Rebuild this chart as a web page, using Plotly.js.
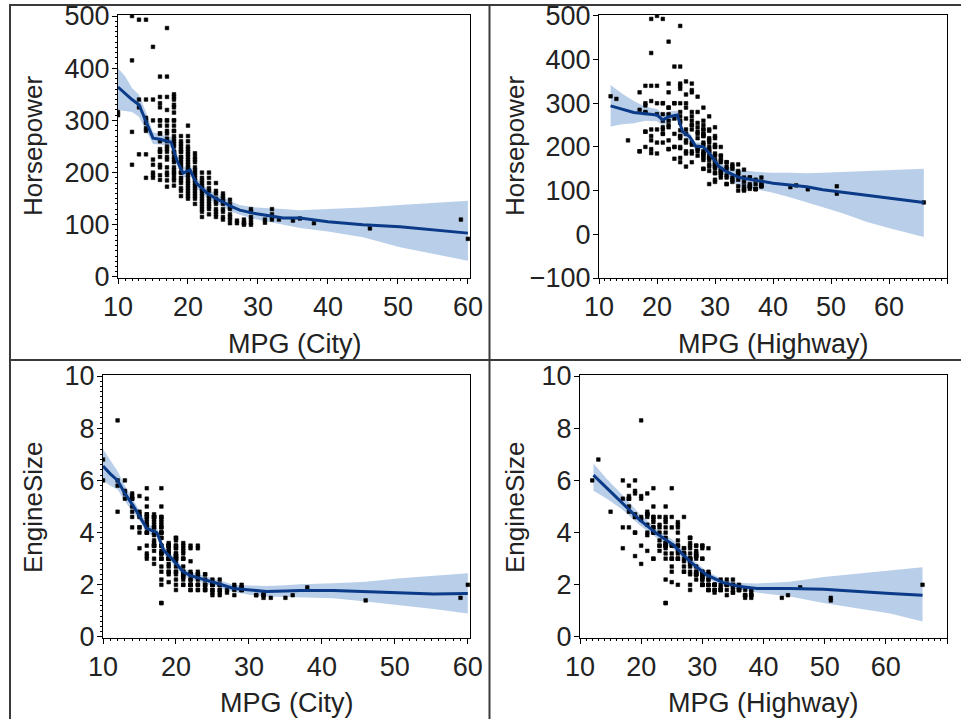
<!DOCTYPE html>
<html>
<head>
<meta charset="utf-8">
<script src="https://cdn.plot.ly/plotly-3.0.1.min.js"></script>
<style>html,body{margin:0;padding:0;background:#fff;}#chart{width:961px;height:719px;}</style>
</head>
<body>
<div id="chart"></div>
<script>
// ---- Observations (one entry per car, parallel arrays) ----
const mpgCity = [
  10,10,12,12,12,12,13,13,13,13, 14,14,14,14,14,14,14,14,14,15, 15,15,15,15,15,15,15,
  16,16,16,16,16,16,16,16,16,16, 16,16,16,16,16,16,16,16,
  17,17,17,17,17,17,17,17,17,17, 17,17,17,17,17,17,17,17,17,17, 17,
  18,18,18,18,18,18,18,18,18,18, 18,18,18,18,18,18,18,18,18,18, 18,18,18,18,18,18,18,18,18,
  19,19,19,19,19,19,19,19,19,19, 19,19,19,19,19,19,19,19,19,19, 19,
  20,20,20,20,20,20,20,20,20,20, 20,20,20,20,20,20,20,20,20,20, 20,20,20,20,
  21,21,21,21,21,21,21,21,21,21, 21,21,21,21,21,21,21,21,
  22,22,22,22,22,22,22,22,22,22, 22,22,22,22,22,22, 23,23,23,23,23,23,23,23,23,23, 23,23,
  24,24,24,24,24,24,24,24,24,24, 25,25,25,25,25,25,25,25,25, 26,26,26,26,26,26,26,26, 27,27,28,28,28,28, 29,29,29,29,29,29,
  31,32,32,32,33,35,36,38,46,59,60,31,32
];
const mpgHighway = [
  12,13,20,19,18,15,19,19,17,18, 21,18,18,18,17,19,18,17,18,22, 20,19,19,18,17,19,21,
  23,22,24,22,21,20,21,19,21,20, 22,19,22,20,21,21,22,20,
  24,24,24,25,23,22,23,22,21,24, 21,22,20,23,24,21,23,22,24,23, 22,
  25,26,26,24,25,24,24,28,23,24, 25,23,25,24,24,24,26,27,22,26, 25,25,26,27,25,24,26,25,24,
  26,27,26,25,27,26,24,26,27,28, 25,27,28,26,28,27,25,27,26,24, 26,
  28,29,28,30,29,28,29,27,28,29, 26,30,28,27,28,28,29,30,28,27, 29,29,30,28,
  29,28,29,30,28,29,30,30,28,30, 29,29,30,28,29,31,30,28,
  31,29,30,31,29,31,30,31,29,28, 30,30,32,29,31,30, 30,31,32,30,31,32,30,31,30,31, 32,29,
  31,33,32,31,33,32,34,32,31,33, 34,33,34,35,32,34,33,34,33, 35,34,36,35,37,35,34,36, 36,35,36,37,34,35, 36,38,36,35,36,37,
  38,38,37,38,38,43,44,46,51,51,66,37,38
];
const horsepower = [
  316,310,500,415,278,215,493,340,325,235, 493,340,300,295,285,305,235,190,280,441, 340,225,215,200,190,195,300,
  384,345,333,325,300,275,260,240,230,210, 195,186,290,300,245,275,215,240,
  477,384,345,320,300,290,265,250,240,225, 210,195,185,173,280,230,300,275,260,200, 245,
  350,325,345,300,290,270,255,240,230,220, 210,200,185,175,197,238,280,315,260,205, 265,240,250,280,300,225,330,190,340,
  270,255,240,230,220,210,200,190,180,170, 155,245,225,260,240,230,215,200,185,165, 250,
  290,270,250,225,215,205,200,190,184,175, 165,160,150,235,180,260,240,220,210,195, 170,155,245,230,
  237,225,210,200,190,180,170,160,150,140, 195,220,205,185,175,165,155,230,
  200,190,180,170,160,150,140,130,115,175, 185,165,155,145,135,125, 200,180,165,150,140,130,120,170,155,145, 135,190,
  180,160,150,140,130,115,125,165,145,120, 160,150,140,130,115,110,155,145,125, 148,140,130,120,103,110,135,115, 108,103,110,104,100,103, 130,115,104,100,110,125,
  110,130,115,110,110,108,112,103,93,110,73,104,120
];
const engineSize = [
  6.0,6.8,8.3,6.0,5.8,4.8,5.5,5.6,6.0,5.3, 5.5,5.4,5.3,5.3,5.3,4.6,4.8,4.2,5.0,4.2, 5.4,4.6,4.0,4.2,3.4,4.7,4.8,
  4.2,5.7,3.2,4.4,4.6,4.5,4.7,4.0,4.0,3.5, 3.0,3.1,5.0,5.3,4.3,4.7,4.0,4.6,
  3.6,4.2,4.4,4.6,4.6,4.2,3.5,4.0,4.7,3.5, 3.3,3.0,2.8,3.7,4.5,3.9,4.3,4.6,3.5,3.5, 4.6,
  5.7,4.4,4.0,4.6,3.2,3.5,3.8,3.8,4.0,3.0, 2.7,3.3,2.5,2.2,1.3,1.3,4.2,4.6,4.5,2.0, 3.0,3.5,3.2,3.2,4.2,4.0,4.3,3.0,5.0,
  3.5,3.2,3.5,3.0,3.0,3.3,3.6,3.0,2.5,2.4, 2.1,2.7,2.8,3.5,3.0,2.5,3.5,3.2,3.0,3.4, 3.0,
  3.2,3.2,3.0,3.0,2.5,3.8,3.1,3.4,2.5,3.1, 3.7,2.2,1.8,2.9,2.0,3.5,3.0,3.0,3.8,3.4, 3.1,2.4,3.5,2.7,
  3.5,3.0,2.7,2.5,3.4,2.4,2.3,2.0,3.6,2.2, 3.3,3.2,2.5,3.0,2.4,2.0,2.3,3.0,
  3.4,2.4,2.0,1.8,2.4,2.2,2.0,1.8,2.5,2.9, 3.5,2.4,2.0,2.2,2.0,2.0, 3.4,2.4,2.0,2.4,2.2,1.8,2.0,2.5,2.3,2.0, 1.8,3.5,
  1.8,2.2,2.0,2.4,1.9,2.0,1.8,2.0,2.4,1.8, 2.0,1.8,2.2,2.0,1.7,1.6,1.8,2.0,2.0, 2.0,2.0,1.8,1.7,1.6,2.2,2.0,1.8, 1.8,1.7,1.9,1.6,2.0,1.8, 2.0,1.8,1.8,1.9,1.9,1.8,
  1.6,1.6,1.5,1.6,1.5,1.5,1.6,1.9,1.4,1.5,2.0,1.6,1.7
];

// ---- Loess fits with confidence limits ----
const fitCityHpX   = [10,11,12,13,14,15,16,17,17.6,18.4,19.3,20.3,21.2,22.7,24,25,26,27.4,29.8,33.6,36,40,45,50.3,55,60];
const fitCityHp    = [364,352,340,330,298,266,264,261,258,224,199,205,180,161,150,144,136,128,121,113,113,106,100,96,90,84];
const fitCityHpUp  = [400,385,362,349,316,278,273,270,268,234,210,214,190,170,159,153,146,138,133,130,128,130,133,138,142,146];
const fitCityHpLo  = [320,318,316,307,280,255,254,252,248,214,189,196,170,152,141,135,126,119,110,100,94,87,76,57,45,31];

const fitHwyHpX    = [12,14,16,18,20,21,22,23.5,24.4,25.6,26.7,27.9,29,30.7,31.9,34.2,37.1,40,42.9,45.8,48.6,52,56.2,60.1,66];
const fitHwyHp     = [294,287,279,276,273,262,269,273,235,224,201,201,186,155,144,130,124,117,113,109,102,96,90,82,73];
const fitHwyHpUp   = [342,322,305,292,287,275,281,283,244,233,210,210,195,165,155,147,143,141,141,140,141,143,145,147,150];
const fitHwyHpLo   = [247,252,254,260,259,249,257,263,226,215,192,192,177,145,133,109,103,95,85,74,62,48,28,14,-6];

const fitCityEngX  = [10,11,12,13,14.2,15,16,17.4,18.3,19.6,21,22,23.3,25.6,27.9,30.1,32.4,35,37,41.6,46,50.7,55.3,60];
const fitCityEng   = [6.55,6.25,6.0,5.5,5.0,4.65,4.16,4.0,3.33,2.95,2.5,2.35,2.25,2.06,1.86,1.8,1.74,1.76,1.78,1.78,1.74,1.71,1.65,1.67];
const fitCityEngUp = [7.2,6.75,6.35,5.8,5.25,4.85,4.35,4.17,3.5,3.1,2.65,2.5,2.4,2.2,2.0,1.98,1.95,1.98,2.02,2.06,2.12,2.25,2.35,2.44];
const fitCityEngLo = [6.0,5.8,5.65,5.2,4.75,4.45,3.97,3.83,3.16,2.8,2.35,2.2,2.1,1.92,1.72,1.62,1.55,1.53,1.52,1.48,1.36,1.22,1.07,0.9];

const fitHwyEngX   = [12.2,14.4,17.1,19.8,22.5,25.3,28,30.7,33.4,36.2,38.9,44.3,49.8,55.2,60.7,66];
const fitHwyEng    = [6.2,5.7,5.12,4.48,3.97,3.52,2.89,2.38,2.08,1.93,1.86,1.86,1.83,1.74,1.67,1.6];
const fitHwyEngUp  = [6.65,6.05,5.4,4.7,4.15,3.7,3.05,2.52,2.2,2.07,2.05,2.12,2.3,2.43,2.57,2.67];
const fitHwyEngLo  = [5.6,5.3,4.85,4.27,3.8,3.35,2.73,2.24,1.95,1.8,1.7,1.55,1.3,1.1,0.9,0.59];

// ---- Text ----
const xTitles = ['MPG (City)', 'MPG (Highway)', 'MPG (City)', 'MPG (Highway)'];
const yTitles = ['Horsepower', 'Horsepower', 'EngineSize', 'EngineSize'];

// ---- Styling ----
const W = 961, H = 719;
const px = v => v / W;
const py = v => 1 - v / H;
const FONT = 'Liberation Sans, Arial, sans-serif';
const BAND = '#b9cfe9';
const LINE = '#0b3a88';
const marker = {symbol: 'square', size: 3.6, color: '#000', line: {width: 0.6, color: '#000'}};

function panel(xa, ya, xs, ys, fx, f, fu, fl) {
  return [
    {type: 'scatter', mode: 'lines', x: fx, y: fl, xaxis: xa, yaxis: ya, line: {width: 0, color: BAND}, hoverinfo: 'skip', showlegend: false},
    {type: 'scatter', mode: 'lines', x: fx, y: fu, xaxis: xa, yaxis: ya, line: {width: 0, color: BAND}, fill: 'tonexty', fillcolor: BAND, hoverinfo: 'skip', showlegend: false},
    {type: 'scatter', mode: 'markers', x: xs, y: ys, xaxis: xa, yaxis: ya, marker: marker, showlegend: false},
    {type: 'scatter', mode: 'lines', x: fx, y: f, xaxis: xa, yaxis: ya, line: {width: 3, color: LINE}, showlegend: false}
  ];
}

const data = [].concat(
  panel('x', 'y', mpgCity, horsepower, fitCityHpX, fitCityHp, fitCityHpUp, fitCityHpLo),
  panel('x2', 'y2', mpgHighway, horsepower, fitHwyHpX, fitHwyHp, fitHwyHpUp, fitHwyHpLo),
  panel('x3', 'y3', mpgCity, engineSize, fitCityEngX, fitCityEng, fitCityEngUp, fitCityEngLo),
  panel('x4', 'y4', mpgHighway, engineSize, fitHwyEngX, fitHwyEng, fitHwyEngUp, fitHwyEngLo)
);

function ax(extra) {
  return Object.assign({
    showline: true, linecolor: '#000', linewidth: 1, mirror: true,
    ticks: 'outside', ticklen: 5, tickcolor: '#000', tickwidth: 1,
    showgrid: false, zeroline: false, automargin: false, fixedrange: true,
    tickfont: {family: FONT, size: 27, color: '#222'}
  }, extra);
}
const minor = (d) => ({ticks: 'outside', ticklen: 2, dtick: d, tickcolor: '#000', showgrid: false});

const layout = {
  width: W, height: H,
  margin: {l: 0, r: 0, t: 0, b: 0},
  paper_bgcolor: '#fff', plot_bgcolor: '#fff',
  showlegend: false,
  xaxis:  ax({anchor: 'y',  domain: [px(118), px(470)], range: [10, 60.3], dtick: 10, tick0: 10, minor: minor(1)}),
  yaxis:  ax({anchor: 'x',  domain: [py(278), py(15)],  range: [-2, 502], dtick: 100, minor: minor(10), ticklabelstandoff: -3}),
  xaxis2: ax({anchor: 'y2', domain: [px(599), px(947)], range: [10, 70], dtick: 10, tick0: 10, minor: minor(1)}),
  yaxis2: ax({anchor: 'x2', domain: [py(278), py(15)],  range: [-100, 502], dtick: 100, ticklabelstandoff: -3}),
  xaxis3: ax({anchor: 'y3', domain: [px(103), px(470)], range: [10, 60.3], dtick: 10, tick0: 10, minor: minor(1)}),
  yaxis3: ax({anchor: 'x3', domain: [py(638), py(375)], range: [-0.04, 10.04], dtick: 2, minor: minor(0.2), ticklabelstandoff: -3}),
  xaxis4: ax({anchor: 'y4', domain: [px(580), px(947)], range: [10, 70], dtick: 10, tick0: 10, minor: minor(1)}),
  yaxis4: ax({anchor: 'x4', domain: [py(638), py(375)], range: [-0.04, 10.04], dtick: 2, ticklabelstandoff: -3}),
  annotations: [],
  shapes: [
    {type: 'line', xref: 'paper', yref: 'paper', x0: px(9), x1: 1, y0: py(5), y1: py(5), line: {color: '#3a3a3a', width: 2}},
    {type: 'line', xref: 'paper', yref: 'paper', x0: px(10), x1: px(10), y0: py(5), y1: 0, line: {color: '#3a3a3a', width: 2}},
    {type: 'line', xref: 'paper', yref: 'paper', x0: px(489.5), x1: px(489.5), y0: py(5), y1: 0, line: {color: '#3a3a3a', width: 2}},
    {type: 'line', xref: 'paper', yref: 'paper', x0: px(9), x1: 1, y0: py(360), y1: py(360), line: {color: '#3a3a3a', width: 2}}
  ]
};

const xTitleFont = {family: FONT, size: 27, color: '#222'};
const yTitleFont = {family: FONT, size: 26, color: '#222'};
const xTitlePos = [[294, 344], [773, 344], [286, 703], [763, 703]];
const yTitlePos = [[33, 146], [515, 146], [33, 507], [515, 507]];
for (let i = 0; i < 4; i++) {
  layout.annotations.push({xref: 'paper', yref: 'paper', x: px(xTitlePos[i][0]), y: py(xTitlePos[i][1]),
    xanchor: 'center', yanchor: 'middle', showarrow: false, text: xTitles[i], font: xTitleFont});
  layout.annotations.push({xref: 'paper', yref: 'paper', x: px(yTitlePos[i][0]), y: py(yTitlePos[i][1]),
    xanchor: 'center', yanchor: 'middle', showarrow: false, text: yTitles[i], textangle: -90, font: yTitleFont});
}

Plotly.newPlot('chart', data, layout, {displayModeBar: false, staticPlot: true});
</script>
</body>
</html>
